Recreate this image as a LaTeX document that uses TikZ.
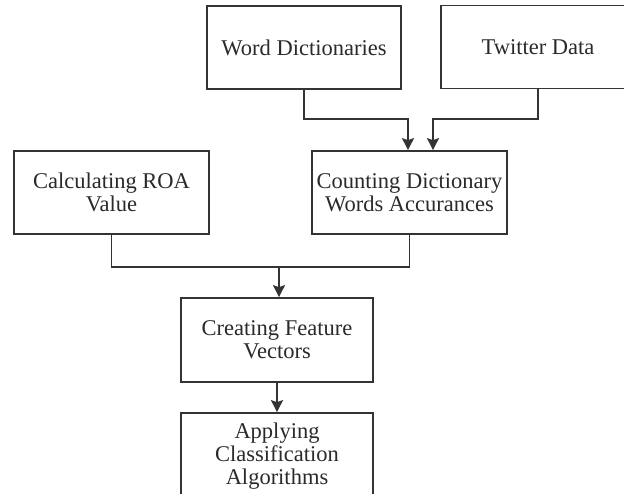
\documentclass[tikz,border=0pt]{standalone}
\usepackage{fontspec}
\setmainfont{Liberation Serif}
\usetikzlibrary{arrows.meta}
\definecolor{ln}{HTML}{333333}
\definecolor{tx}{HTML}{2A2A2A}
\begin{document}
\begin{tikzpicture}[x=1pt,y=1pt,
  box/.style={draw=ln, line width=1.7pt, minimum width=#1, minimum height=83pt,
    inner sep=0pt, align=center, text=tx,
    font=\fontsize{22.5pt}{23pt}\selectfont},
  box/.default=194pt,
  conn/.style={draw=ln, line width=1.7pt},
  arr/.style={conn, -{Stealth[length=12pt,width=12pt,inset=2pt]}}]
\useasboundingbox (0,0) rectangle (624,494);
\fill[white] (0,0) rectangle (624,494);
% nodes (y = 494 - pixel y)
\node[box] (wd) at (304,446.5) {Word Dictionaries};
\node[box] (td) at (538,447) {Twitter Data};
\node[box=195pt] (cr) at (111.5,301.5) {Calculating ROA\\Value};
\node[box=195pt] (cd) at (409.5,301.5) {Counting Dictionary\\Words Accurances};
\node[box=192pt, minimum height=84pt] (cf) at (277,154) {Creating Feature\\Vectors};
\node[box=192pt, minimum height=86pt] (ac) at (277,38) {Applying\\Classification\\Algorithms};
% junction and target coordinates
\coordinate (j1) at (0,375);
\coordinate (j2) at (0,227);
\coordinate (cdl) at ([xshift=-1.5pt]cd.north);
\coordinate (cdr) at ([xshift=23.5pt]cd.north);
\coordinate (cft) at ([xshift=2pt]cf.north);
% connectors
\draw[arr] (wd.south) |- (j1 -| cdl) -- (cdl);
\draw[arr] (td.south) |- (j1 -| cdr) -- (cdr);
\draw[conn] (cr.south) |- (j2 -| cd.south) -- (cd.south);
\draw[arr] (j2 -| cft) -- (cft);
\draw[arr] (cf.south) -- (ac.north);
\end{tikzpicture}
\end{document}
